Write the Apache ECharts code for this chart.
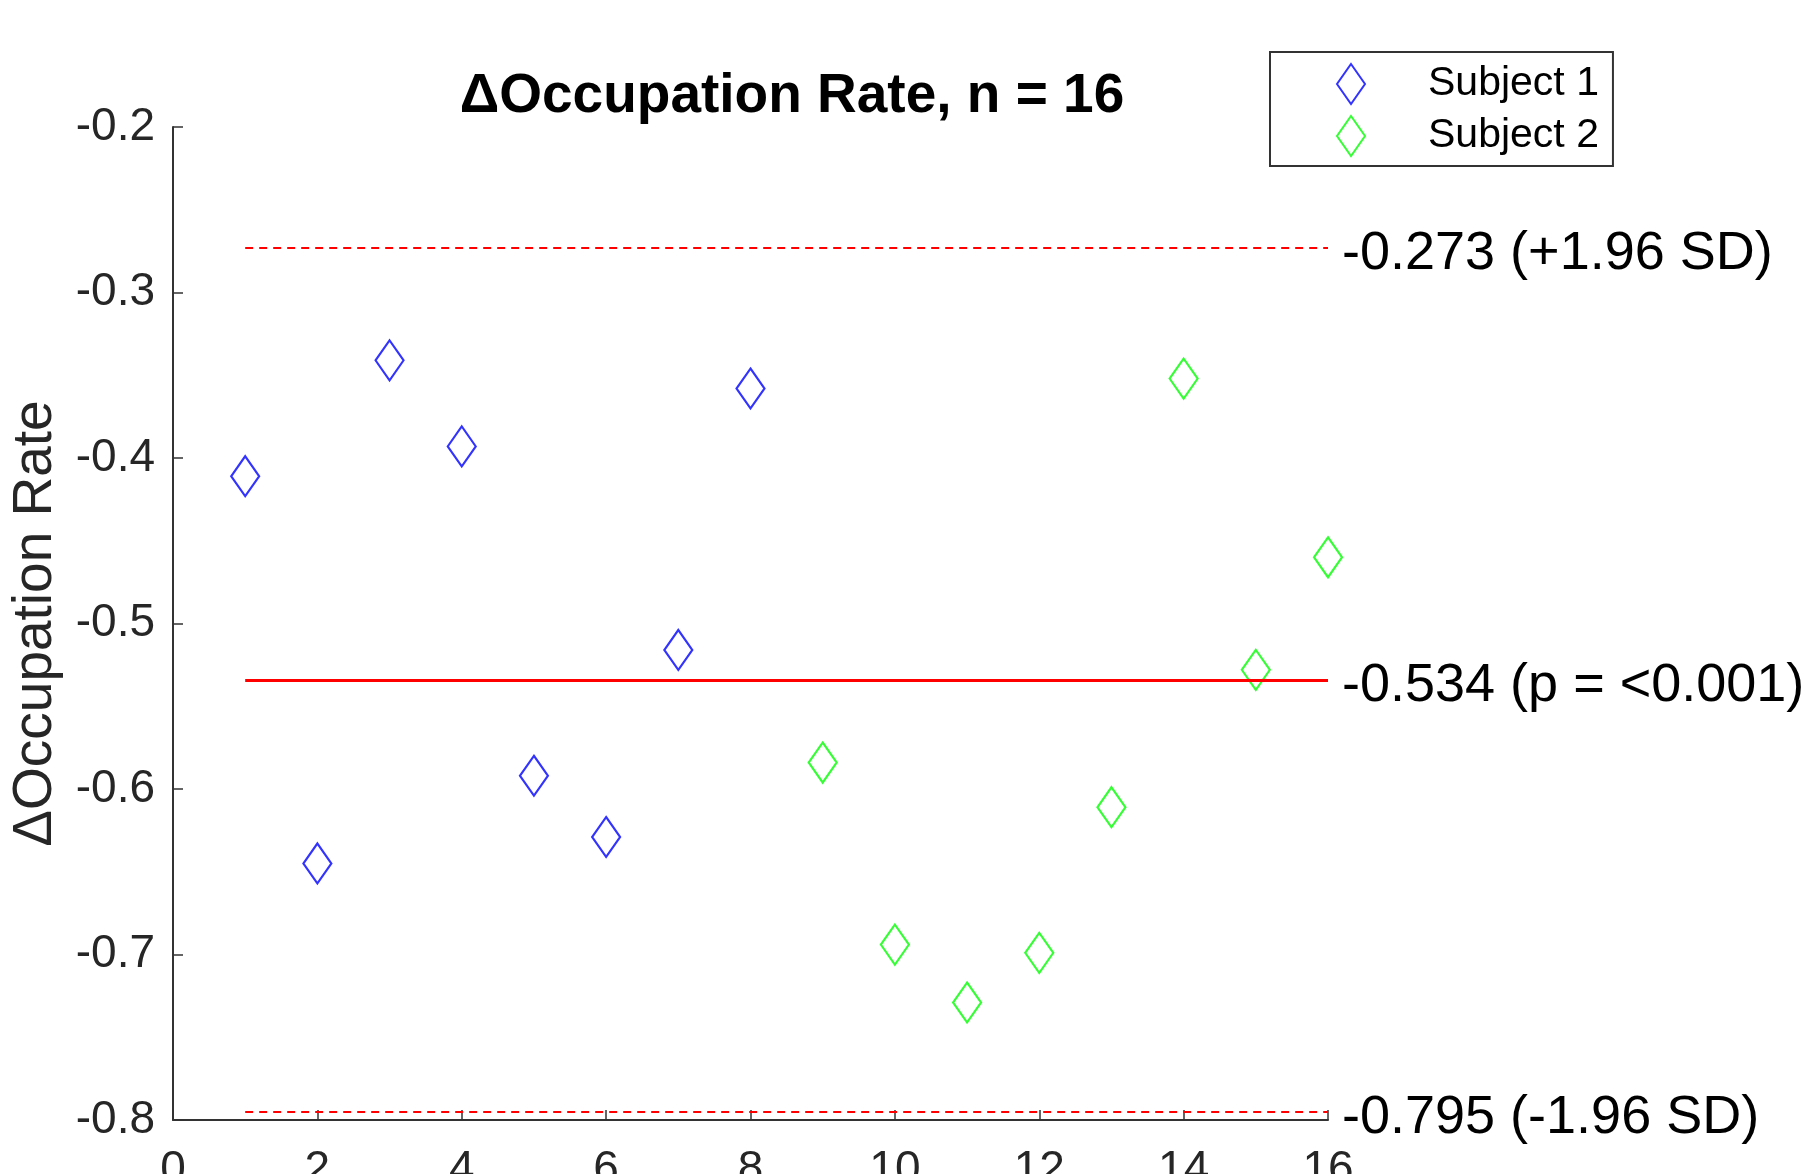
<!DOCTYPE html>
<html>

<head>
    <meta charset="UTF-8" />
    <title>ΔOccupation Rate</title>
    <script src="https://cdn.jsdelivr.net/npm/echarts@6/dist/echarts.min.js"></script>
    <style>
        html, body {
            margin: 0;
            padding: 0;
            background: #fff;
        }

        #chart {
            width: 1816px;
            height: 1174px;
        }
    </style>
</head>

<body>
    <div id="chart"></div>
</body>
<script type="text/javascript">
    // 数据
    var subject1X = [1, 2, 3, 4, 5, 6, 7, 8];
    var subject1Y = [-0.411, -0.645, -0.341, -0.393, -0.592, -0.629, -0.516, -0.358];
    var subject2X = [9, 10, 11, 12, 13, 14, 15, 16];
    var subject2Y = [-0.584, -0.694, -0.729, -0.699, -0.611, -0.352, -0.528, -0.460];
    // 均值和上下限
    var refValues = [-0.273, -0.534, -0.795];
    var refLabels = ['-0.273 (+1.96 SD)', '-0.534 (p = <0.001)', '-0.795 (-1.96 SD)'];
    var refTypes = ['dashed', 'solid', 'dashed'];
    var lineStart = 1, lineEnd = 16;

    function pairs(xs, ys) {
        var out = [];
        for (let i = 0; i < xs.length; i++) {
            out.push([xs[i], ys[i]]);
        }
        return out;
    }

    var markData = [];
    for (let i = 0; i < refValues.length; i++) {
        markData.push([
            {
                coord: [lineStart, refValues[i]],
                lineStyle: {
                    type: refTypes[i] == 'dashed' ? [8, 6] : 'solid',
                    width: refTypes[i] == 'dashed' ? 2 : 3,
                    color: '#ff0000'
                },
                label: { formatter: '{t|' + refLabels[i] + '}' }
            },
            { coord: [lineEnd, refValues[i]] }
        ]);
    }

    var axisColor = '#333333';
    var myChart = echarts.init(document.getElementById('chart'));
    var option = {
        animation: false,
        backgroundColor: '#ffffff',
        title: {
            text: 'ΔOccupation Rate, n = 16',
            left: 787,
            top: 64,
            textAlign: 'center',
            textStyle: {
                fontFamily: 'Liberation Sans',
                fontWeight: 'bold',
                fontSize: 55,
                color: '#000'
            }
        },
        legend: {
            orient: 'vertical',
            left: 1270,
            top: 52,
            padding: [11, 14, 9, 66],
            itemWidth: 28,
            itemHeight: 40,
            itemGap: 10,
            borderColor: '#333',
            borderWidth: 2,
            backgroundColor: '#fff',
            textStyle: {
                fontFamily: 'Liberation Sans',
                fontSize: 41,
                color: '#000',
                padding: [0, 0, 0, 58]
            },
            data: [
                { name: 'Subject 1', icon: 'diamond', itemStyle: { color: 'rgba(0,0,0,0)', borderColor: '#0000ff', borderWidth: 2 } },
                { name: 'Subject 2', icon: 'diamond', itemStyle: { color: 'rgba(0,0,0,0)', borderColor: '#00ff00', borderWidth: 2 } }
            ]
        },
        grid: {
            left: 173,
            right: 488,
            top: 127,
            bottom: 54,
            outerBoundsMode: 'none'
        },
        xAxis: {
            type: 'value',
            min: 0,
            max: 16,
            interval: 2,
            splitLine: { show: false },
            axisLine: { show: true, lineStyle: { color: axisColor, width: 2 } },
            axisTick: { show: true, inside: true, length: 10, lineStyle: { color: axisColor, width: 1.5 } },
            axisLabel: {
                margin: 27,
                fontFamily: 'Liberation Sans',
                fontSize: 46,
                color: '#262626'
            }
        },
        yAxis: {
            type: 'value',
            min: -0.8,
            max: -0.2,
            interval: 0.1,
            name: 'ΔOccupation Rate',
            nameLocation: 'middle',
            nameGap: 110,
            nameTextStyle: {
                fontFamily: 'Liberation Sans',
                fontSize: 55,
                color: '#262626'
            },
            splitLine: { show: false },
            axisLine: { show: true, lineStyle: { color: axisColor, width: 2 } },
            axisTick: { show: true, inside: true, length: 10, lineStyle: { color: axisColor, width: 1.5 } },
            axisLabel: {
                margin: 18,
                fontFamily: 'Liberation Sans',
                fontSize: 46,
                color: '#262626'
            }
        },
        series: [
            {
                name: 'Subject 1',
                type: 'scatter',
                symbol: 'diamond',
                symbolSize: [28, 40],
                itemStyle: { color: 'rgba(0,0,0,0)', borderColor: '#0000ff', borderWidth: 2.2 },
                data: pairs(subject1X, subject1Y)
            },
            {
                name: 'Subject 2',
                type: 'scatter',
                symbol: 'diamond',
                symbolSize: [28, 40],
                itemStyle: { color: 'rgba(0,0,0,0)', borderColor: '#00ff00', borderWidth: 2.2 },
                data: pairs(subject2X, subject2Y)
            },
            {
                name: 'refs',
                type: 'line',
                data: [],
                markLine: {
                    silent: true,
                    symbol: ['none', 'none'],
                    label: {
                        show: true,
                        position: 'end',
                        distance: 14,
                        rich: {
                            t: {
                                padding: [12, 0, 0, 0],
                                fontFamily: 'Liberation Sans',
                                fontSize: 54,
                                color: '#000'
                            }
                        }
                    },
                    data: markData
                }
            }
        ]
    };
    myChart.setOption(option);
</script>

</html>
